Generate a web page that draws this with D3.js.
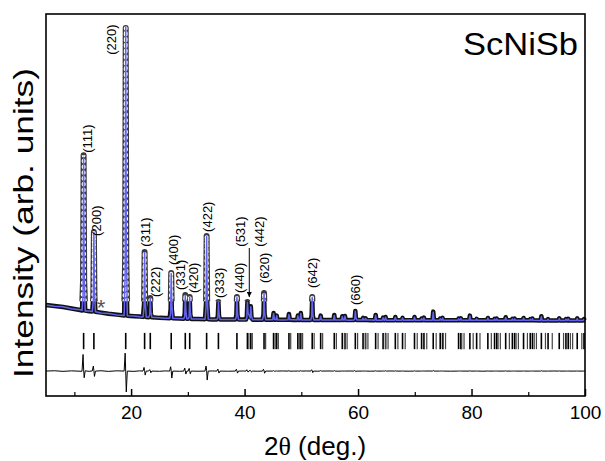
<!DOCTYPE html>
<html>
<head>
<meta charset="utf-8">
<script src="https://cdn.jsdelivr.net/npm/d3@7"></script>
<style>
    body { margin: 0; background: #ffffff; }
    text { font-family: "Liberation Sans", Arial, sans-serif; }
</style>
</head>
<body>
<svg id="xrd_plot" width="605" height="461"></svg>
<script>
const twoTheta = [
    5.00, 6.5, 8.0, 9.5, 11.0,
    11.35, 11.53, 11.63, 11.73, 11.91,
    12.6,
    13.16, 13.34, 13.44, 13.54, 13.72,
    14.7, 16.0, 17.5,
    18.77, 18.95, 19.05, 19.15, 19.33,
    20.5, 21.5,
    22.10, 22.28, 22.38, 22.48, 22.66,
    23.10, 23.28, 23.38, 23.48, 23.66,
    25.0, 26.0,
    26.79, 26.97, 27.07, 27.17, 27.35,
    28.5,
    29.27, 29.45, 29.55, 29.65, 29.83,
    30.05, 30.23, 30.33, 30.43, 30.61,
    31.8,
    33.03, 33.21, 33.31, 33.41, 33.59,
    34.3,
    35.11, 35.29, 35.39, 35.49, 35.67,
    37.0,
    38.37, 38.55, 38.65, 38.75, 38.93,
    39.8,
    40.25, 40.40, 40.50, 40.62, 40.80, 41.00, 41.10, 41.22, 41.40,
    42.3,
    43.15, 43.33, 43.43, 43.53, 43.71,
    44.95, 45.11, 45.27, 45.52, 45.66, 45.80,
    46.7,
    47.66, 47.82, 47.98,
    48.6,
    49.25, 49.39, 49.53, 49.77, 49.91, 50.05,
    50.9,
    51.66, 51.82, 51.92, 52.02, 52.18,
    52.8,
    53.27, 53.41, 53.55,
    54.7,
    55.67, 55.81, 55.95,
    56.5,
    57.08, 57.22, 57.36, 57.55, 57.69, 57.83,
    58.6,
    59.26, 59.42, 59.52, 59.62, 59.78,
    60.74, 60.88, 61.02, 61.19, 61.33, 61.47,
    62.2,
    62.96, 63.10, 63.24,
    64.27, 64.41, 64.55, 64.71, 64.85, 64.99,
    65.8,
    66.43, 66.57, 66.71,
    67.70, 67.84, 67.98,
    69.0,
    69.81, 69.95, 70.09,
    71.06, 71.20, 71.34, 71.47, 71.61, 71.75,
    72.5,
    73.11, 73.25, 73.39,
    74.34, 74.48, 74.62, 74.75, 74.89, 75.03,
    76.3,
    77.58, 77.72, 77.86, 77.98, 78.12, 78.26,
    79.57, 79.71, 79.85,
    80.76, 80.90, 81.04,
    82.0,
    82.74, 82.88, 83.02,
    83.92, 84.06, 84.20, 84.31, 84.45, 84.59,
    85.88, 86.02, 86.16,
    87.06, 87.20, 87.34, 87.46, 87.60, 87.74,
    89.03, 89.17, 89.31,
    90.21, 90.35, 90.49, 90.60, 90.74, 90.88,
    92.17, 92.31, 92.45,
    93.35, 93.49, 93.63,
    94.5,
    95.32, 95.46, 95.60,
    96.50, 96.64, 96.78, 96.90, 97.04, 97.18,
    98.49, 98.63, 98.77,
    99.68, 99.82, 99.96, 100
];

const yObs = [
    1240, 1210, 1180, 1135, 1090,
    1075, 2000, 5750, 2000, 1070,
    1050,
    1045, 1520, 3440, 1520, 1035,
    1010, 975, 950,
    925, 2650, 9580, 2650, 915,
    900, 890,
    882, 1270, 2835, 1270, 878,
    872, 985, 1450, 985, 868,
    852, 846,
    842, 1110, 2200, 1110, 838,
    830,
    826, 970, 1540, 970, 824,
    823, 950, 1480, 950, 821,
    815,
    811, 1310, 3320, 1310, 809,
    806,
    805, 910, 1330, 910, 804,
    802,
    800, 935, 1480, 935, 800,
    800,
    800, 900, 1330, 960, 940, 870, 1200, 870, 798,
    797,
    795, 955, 1600, 955, 795,
    795, 1000, 795, 794, 920, 794,
    793,
    792, 970, 792,
    791,
    790, 920, 790, 790, 1000, 790,
    790,
    790, 930, 1480, 930, 790,
    789,
    789, 920, 789,
    788,
    787, 940, 787,
    787,
    786, 900, 786, 786, 910, 786,
    786,
    785, 840, 1060, 840, 785,
    785, 850, 785, 785, 840, 785,
    784,
    784, 940, 784,
    784, 860, 784, 784, 880, 784,
    783,
    783, 880, 783,
    783, 850, 783,
    782,
    782, 880, 782,
    782, 830, 782, 782, 860, 782,
    781,
    781, 1040, 781,
    781, 830, 781, 781, 850, 781,
    780,
    780, 830, 780, 780, 840, 780,
    780, 920, 780,
    780, 820, 780,
    779,
    779, 850, 779,
    779, 820, 779, 779, 830, 779,
    778, 870, 778,
    778, 820, 778, 778, 830, 778,
    777, 850, 777,
    777, 815, 777, 777, 830, 777,
    776, 900, 776,
    776, 815, 776,
    776,
    775, 840, 775,
    775, 815, 775, 775, 825, 775,
    775, 840, 775,
    775, 815, 775, 775
];

const yCalc = [
    1240, 1200, 1188, 1128, 1094,
    1080, 1500, 5690, 2200, 1062,
    1058,
    1040, 1370, 3420, 1680, 1035,
    1000, 984, 942,
    925, 2110, 9600, 3280, 915,
    908, 884,
    880, 1160, 2820, 1390, 878,
    870, 940, 1440, 1035, 868,
    858, 841,
    842, 980, 2190, 1320, 838,
    835,
    826, 880, 1530, 1060, 824,
    823, 870, 1470, 1030, 821,
    819,
    811, 1160, 3300, 1580, 809,
    802,
    805, 850, 1320, 970, 804,
    806,
    800, 880, 1470, 995, 800,
    797,
    800, 860, 1320, 990, 930, 850, 1190, 900, 798,
    801,
    795, 900, 1590, 1020, 795,
    795, 985, 800, 794, 915, 794,
    789,
    792, 955, 795,
    792,
    790, 915, 792, 790, 985, 790,
    786,
    790, 890, 1470, 975, 790,
    792,
    789, 905, 789,
    785,
    787, 925, 787,
    790,
    786, 895, 786, 786, 905, 786,
    783,
    785, 820, 1050, 860, 785,
    785, 845, 785, 785, 838, 785,
    787,
    784, 930, 784,
    784, 855, 784, 784, 870, 784,
    780,
    783, 872, 783,
    783, 846, 783,
    785,
    782, 872, 782,
    782, 828, 782, 782, 852, 782,
    778,
    781, 1020, 781,
    781, 826, 781, 781, 846, 781,
    783,
    780, 826, 780, 780, 836, 780,
    780, 910, 780,
    780, 818, 780,
    782,
    779, 845, 779,
    779, 818, 779, 779, 826, 779,
    778, 862, 778,
    778, 818, 778, 778, 826, 778,
    777, 845, 777,
    777, 813, 777, 777, 826, 777,
    776, 890, 776,
    776, 813, 776,
    773,
    775, 835, 775,
    775, 813, 775, 775, 822, 775,
    775, 835, 775,
    775, 813, 775, 775
];

// Bragg reflection positions (tick row), K-alpha1 and K-alpha2 lines
const reflections = [
    11.63, 13.44, 19.05, 22.38, 23.38, 27.07, 29.55, 30.33, 33.31, 35.39,
    38.65, 40.50, 41.10, 43.43, 45.11, 45.66, 47.82, 49.39, 49.91, 51.92,
    53.41, 55.81, 57.22, 57.69, 59.52, 60.88, 61.33, 63.10, 64.41, 64.85,
    66.57, 67.84, 69.95, 71.20, 71.61, 73.25, 74.48, 74.89, 77.72, 78.12,
    79.71, 80.90, 82.88, 84.06, 84.45, 86.02, 87.20, 87.60, 89.17, 90.35,
    90.74, 92.31, 93.49, 95.46, 96.64, 97.04, 98.63, 99.82
];

const reflectionsKa2 = [
    40.76, 41.36, 43.71, 45.40, 45.95, 48.13, 49.71, 50.23, 52.26, 53.76,
    56.18, 57.60, 58.07, 59.92, 61.29, 61.74, 63.53, 64.85, 65.29, 67.02,
    68.31, 70.43, 71.70, 72.11, 73.77, 75.01, 75.42, 78.28, 78.68, 80.29,
    81.49, 83.49, 84.68, 85.08, 86.67, 87.86, 88.26, 89.85, 91.05, 91.44,
    93.03, 94.23, 96.22, 97.42, 97.82, 99.44
];

// hkl annotations: text, 2theta and intensity of the label foot
const hklNames     = ["(111)", "(200)", "(220)", "(311)", "(222)", "(400)", "(331)", "(420)",
                      "(422)", "(333)", "(440)", "(531)", "(442)", "(620)", "(642)", "(660)"];
const hklTheta     = [12.40, 14.00, 16.75, 22.75, 24.50, 27.56, 28.92, 31.08,
                      33.55, 35.67, 39.19, 39.49, 42.72, 43.60, 52.11, 59.76];
const hklIntensity = [5820, 3320, 8770, 2990, 1480, 2440, 1690, 1600,
                      3440, 1450, 1600, 2995, 2995, 1900, 1750, 1240];

const arrowTheta    = 40.83;
const arrowFrom     = 2955;
const arrowTo       = 1480;
const impurityTheta = 14.69;
const impurityValue = 1330;

const xMajorTicks = [20, 40, 60, 80, 100];
const xMinorTicks = [10, 30, 50, 70, 90];

const diffOffset  = -750;
const tickTop     = 400;
const tickBottom  = -90;

if (twoTheta.length !== yObs.length || twoTheta.length !== yCalc.length)
{
    console.error("profile arrays differ", twoTheta.length, yObs.length, yCalc.length);
}

// the following code is used to draw our graph
var target_svg = d3.select("#xrd_plot");

var margin = { top    : 14,
               bottom : 65,
               left   : 46,
               right  : 20};

var width  = 605;
var height = 461;

const xScale = d3.scaleLinear()
    .domain([5, 100])
    .range([margin.left, width - margin.right]);

const yScale = d3.scaleLinear()
    .domain([-1500, 10000])
    .range([height - margin.bottom, margin.top]);

const points = twoTheta.map((t, i) => ({ t: t, obs: yObs[i], calc: yCalc[i] }));

target_svg.append("rect")
    .attr("width", width)
    .attr("height", height)
    .attr("fill", "#ffffff");

const defs = target_svg.append("defs");

defs.append("clipPath")
    .attr("id", "peak_clip")
    .append("rect")
    .attr("x", margin.left)
    .attr("y", margin.top)
    .attr("width", width - margin.left - margin.right)
    .attr("height", yScale(1350) - margin.top);

defs.append("marker")
    .attr("id", "arrow_head")
    .attr("viewBox", "0 0 10 10")
    .attr("refX", 10)
    .attr("refY", 5)
    .attr("markerWidth", 5)
    .attr("markerHeight", 5)
    .attr("markerUnits", "userSpaceOnUse")
    .attr("orient", "auto")
    .append("path")
    .attr("d", "M0,0 L10,5 L0,10 Z")
    .attr("fill", "#000000");

const obsLine = d3.line()
    .x(d => xScale(d.t))
    .y(d => yScale(d.obs));

const calcLine = d3.line()
    .x(d => xScale(d.t))
    .y(d => yScale(d.calc));

const diffLine = d3.line()
    .x(d => xScale(d.t))
    .y(d => yScale(d.obs - d.calc + diffOffset));

// here we are rendering the observed profile (dense open circles)
target_svg.append("path")
    .datum(points)
    .attr("d", obsLine)
    .attr("fill", "none")
    .attr("stroke", "#111111")
    .attr("stroke-width", 4.5)
    .attr("stroke-linejoin", "round");

const peakGroup = target_svg.append("g")
    .attr("clip-path", "url(#peak_clip)");

peakGroup.append("path")
    .datum(points)
    .attr("d", obsLine)
    .attr("fill", "none")
    .attr("stroke", "#3a3a3a")
    .attr("stroke-width", 6)
    .attr("stroke-linejoin", "round");

peakGroup.append("path")
    .datum(points)
    .attr("d", obsLine)
    .attr("fill", "none")
    .attr("stroke", "#ffffff")
    .attr("stroke-width", 3.8)
    .attr("stroke-linecap", "round")
    .attr("stroke-dasharray", "0.8 5");

// here we are rendering the calculated profile
target_svg.append("path")
    .datum(points)
    .attr("d", calcLine)
    .attr("fill", "none")
    .attr("stroke", "#6262ee")
    .attr("stroke-width", 1.5)
    .attr("stroke-linejoin", "round");

// here we are rendering the reflection ticks
target_svg.selectAll(".bragg_tick").data(reflections)
    .enter().append("line")
    .attr("class", "bragg_tick")
    .attr("x1", d => xScale(d))
    .attr("x2", d => xScale(d))
    .attr("y1", yScale(tickTop))
    .attr("y2", yScale(tickBottom))
    .attr("stroke", "#000000")
    .attr("stroke-width", 1.6);

target_svg.selectAll(".bragg_tick_ka2").data(reflectionsKa2)
    .enter().append("line")
    .attr("class", "bragg_tick_ka2")
    .attr("x1", d => xScale(d))
    .attr("x2", d => xScale(d))
    .attr("y1", yScale(tickTop))
    .attr("y2", yScale(tickBottom))
    .attr("stroke", "#444444")
    .attr("stroke-width", 1.2);

// here we are rendering the difference curve
target_svg.append("path")
    .datum(points)
    .attr("d", diffLine)
    .attr("fill", "none")
    .attr("stroke", "#000000")
    .attr("stroke-width", 1);

// impurity marker
target_svg.append("text")
    .attr("x", xScale(impurityTheta))
    .attr("y", yScale(impurityValue) + 13)
    .attr("text-anchor", "middle")
    .attr("font-size", 22)
    .attr("fill", "#555555")
    .text("*");

// hkl labels
target_svg.selectAll(".hkl_label").data(hklNames)
    .enter().append("text")
    .attr("class", "hkl_label")
    .attr("transform", (d, i) => `translate(${xScale(hklTheta[i])},${yScale(hklIntensity[i])}) rotate(-90)`)
    .attr("dy", "0.28em")
    .attr("font-size", 13)
    .attr("fill", "#000000")
    .text(d => d);

target_svg.append("line")
    .attr("x1", xScale(arrowTheta))
    .attr("x2", xScale(arrowTheta))
    .attr("y1", yScale(arrowFrom))
    .attr("y2", yScale(arrowTo))
    .attr("stroke", "#000000")
    .attr("stroke-width", 1)
    .attr("marker-end", "url(#arrow_head)");

// here we are rendering the axes and frame
const AxisMajor = d3.axisBottom(xScale)
    .tickValues(xMajorTicks)
    .tickSize(-7)
    .tickPadding(10)
    .tickFormat(d3.format("d"));

const AxisMinor = d3.axisBottom(xScale)
    .tickValues(xMinorTicks)
    .tickSize(-4)
    .tickFormat("");

const chartAxisMinor = target_svg.append("g")
    .attr("transform", `translate(0,${height - margin.bottom})`)
    .call(AxisMinor);

const chartAxisMajor = target_svg.append("g")
    .attr("transform", `translate(0,${height - margin.bottom})`)
    .call(AxisMajor);

chartAxisMajor.selectAll(".domain").remove();
chartAxisMinor.selectAll(".domain").remove();

chartAxisMajor.selectAll("line").attr("stroke", "#000000").attr("stroke-width", 1.5);
chartAxisMinor.selectAll("line").attr("stroke", "#000000").attr("stroke-width", 1.2);

chartAxisMajor.selectAll("text")
    .attr("font-size", 19)
    .attr("font-family", "Liberation Sans, Arial, sans-serif")
    .attr("fill", "#000000");

target_svg.append("rect")
    .attr("x", margin.left)
    .attr("y", margin.top)
    .attr("width", width - margin.left - margin.right)
    .attr("height", height - margin.top - margin.bottom)
    .attr("fill", "none")
    .attr("stroke", "#000000")
    .attr("stroke-width", 1.6);

// axis titles and sample name
const xTitle = target_svg.append("text")
    .attr("x", 315)
    .attr("y", 455)
    .attr("text-anchor", "middle")
    .attr("font-size", 26)
    .attr("fill", "#000000");

xTitle.append("tspan").text("2");
xTitle.append("tspan").attr("font-family", "Liberation Serif, serif").text("θ");
xTitle.append("tspan").text(" (deg.)");

target_svg.append("text")
    .attr("transform", "translate(25,223) rotate(-90)")
    .attr("dy", "0.3em")
    .attr("text-anchor", "middle")
    .attr("font-size", 27)
    .attr("textLength", 310)
    .attr("lengthAdjust", "spacingAndGlyphs")
    .attr("fill", "#000000")
    .text("Intensity (arb. units)");

target_svg.append("text")
    .attr("x", 578)
    .attr("y", 55)
    .attr("text-anchor", "end")
    .attr("font-size", 32)
    .attr("textLength", 115)
    .attr("lengthAdjust", "spacingAndGlyphs")
    .attr("fill", "#000000")
    .text("ScNiSb");
</script>
</body>
</html>
